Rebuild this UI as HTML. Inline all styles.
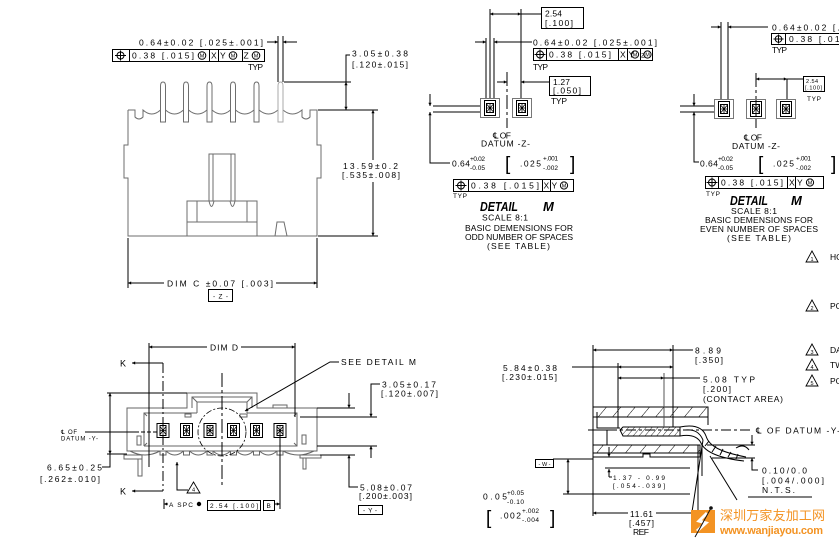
<!DOCTYPE html>
<html><head><meta charset="utf-8">
<style>
html,body{margin:0;padding:0;background:#fff;overflow:hidden;width:839px;height:545px}
svg{display:block;overflow:hidden}
text{font-family:"Liberation Sans","DejaVu Sans",sans-serif;font-size:8.5px;fill:#000}
.sm{font-size:6.5px}
.xs{font-size:5.5px}
.br{font-size:19px;font-weight:normal}
.dt{font-size:13px;font-weight:bold;font-style:italic}
.f6{font-size:6px}
.f9{font-size:9px}
</style></head><body>
<svg width="839" height="545" viewBox="0 0 839 545" xmlns="http://www.w3.org/2000/svg">
<defs>
<marker id="a" viewBox="0 0 10 10" refX="10" refY="5" markerWidth="7" markerHeight="3.2" markerUnits="userSpaceOnUse" orient="auto-start-reverse"><path d="M0,0L10,5L0,10z" fill="#000"/></marker>
<pattern id="h1" width="11" height="11" patternUnits="userSpaceOnUse" patternTransform="rotate(40)"><line x1="0" y1="0" x2="0" y2="11" stroke="#000" stroke-width="1"/></pattern>
<pattern id="h2" width="4.5" height="4.5" patternUnits="userSpaceOnUse" patternTransform="rotate(40)"><line x1="0" y1="0" x2="0" y2="4.5" stroke="#000" stroke-width="0.8"/></pattern>
<g id="c">
<rect x="0.5" y="0.5" width="19" height="19" stroke="#777" fill="none"/>
<rect x="4.5" y="2.5" width="11" height="15" stroke="#000" fill="none"/>
<rect x="6.5" y="5.5" width="7" height="9" stroke="#000" fill="none"/>
<path d="M10,5.5V14.5M6.5,10H13.5M7,6.5L13,13.5M13,6.5L7,13.5" stroke="#000" stroke-width="0.8" fill="none"/>
</g>
<g id="d">
<rect x="0.5" y="0.5" width="12" height="14" stroke="#000" fill="none"/>
<rect x="3.5" y="2.5" width="6" height="10" stroke="#000" fill="none"/>
<path d="M6.5,3V12M3.5,7.5H9.5M4,4L9,11M9,4L4,11" stroke="#000" stroke-width="0.7" fill="none"/>
</g>
</defs>
<rect width="839" height="545" fill="#fff"/>

<!-- ================= FRONT VIEW (top-left) ================= -->
<g stroke="#6e6e6e" fill="none" stroke-width="1">
<path d="M128,110 H135 V117 Q139,121 143,117 V110 Q151.75,118 160.5,110 M165.5,110 Q174.5,118 183.5,110 M188.5,110 Q197.75,118 207,110 M212,110 Q221.25,118 230.5,110 M235.5,110 Q244.75,118 254,110 M259,110 Q268.5,118 278,110 M283,110 Q292.5,118 302,110 V117 Q306,121 310,117 V110 H317 V145 H321 V178 H317 V236 H128 V178 H124 V145 H128 V110"/>
<path d="M160.5,122V86Q160.5,82 163,82Q165.5,82 165.5,86V122Z"/>
<path d="M183.5,122V86Q183.5,82 186,82Q188.5,82 188.5,86V122Z"/>
<path d="M207,122V86Q207,82 209.5,82Q212,82 212,86V122Z"/>
<path d="M230.5,122V86Q230.5,82 233,82Q235.5,82 235.5,86V122Z"/>
<path d="M254,122V86Q254,82 256.5,82Q259,82 259,86V122Z"/>
<path d="M278,122V86Q278,82 280.5,82Q283,82 283,86V122Z" stroke="#aaa"/>
<path d="M209,201V154H235V201M213,154V201M231,154V201M209,201Q211.5,212 214,201M230,201Q232.5,212 235,201"/>
<rect x="187" y="201" width="70" height="35"/>
<path d="M197,201V222M247,201V222M187,222H257"/>
<path d="M275,236L277,222H284L287,236"/>
</g>
<g stroke="#000" fill="none" stroke-width="1">
<line x1="267" y1="42" x2="278" y2="42" marker-end="url(#a)"/>
<line x1="297" y1="42" x2="283" y2="42" marker-end="url(#a)"/>
<line x1="278" y1="36" x2="278" y2="82"/>
<line x1="283" y1="36" x2="283" y2="82"/>
<rect x="112.5" y="49.5" width="152" height="12"/>
<path d="M129.5,49.5V61.5M209.5,49.5V61.5M218.5,49.5V61.5M242.5,49.5V61.5"/>
<circle cx="120.5" cy="55.5" r="3.5"/><path d="M115,55.5H126M120.5,50.5V60.5"/>
<circle cx="202" cy="55.5" r="3.8"/><circle cx="233" cy="55.5" r="3.8"/><circle cx="256" cy="55.5" r="3.8"/>
<path d="M350,55H346V110"/>
<line x1="346" y1="92" x2="346" y2="82" marker-end="url(#a)"/>
<line x1="346" y1="100" x2="346" y2="110" marker-end="url(#a)"/>
<line x1="284" y1="82" x2="351" y2="82"/>
<line x1="318" y1="110" x2="378" y2="110"/>
<line x1="318" y1="236" x2="378" y2="236"/>
<line x1="373" y1="130" x2="373" y2="110" marker-end="url(#a)"/>
<line x1="373" y1="130" x2="373" y2="160"/>
<line x1="373" y1="182" x2="373" y2="236" marker-end="url(#a)"/>
<line x1="128" y1="238" x2="128" y2="288"/>
<line x1="317" y1="238" x2="317" y2="288"/>
<line x1="164" y1="283" x2="128" y2="283" marker-end="url(#a)"/>
<line x1="276" y1="283" x2="317" y2="283" marker-end="url(#a)"/>
<rect x="208.5" y="289.5" width="24" height="12"/>
</g>
<text x="139" y="45.5" textLength="124" lengthAdjust="spacing">0.64±0.02 [.025±.001]</text>
<text x="132" y="58.5" textLength="62" lengthAdjust="spacing">0.38 [.015]</text>
<text x="202" y="57.5" class="xs" text-anchor="middle">M</text>
<text x="211" y="58.5">X</text>
<text x="220" y="58.5">Y</text>
<text x="233" y="57.5" class="xs" text-anchor="middle">M</text>
<text x="243.5" y="58.5">Z</text>
<text x="256" y="57.5" class="xs" text-anchor="middle">M</text>
<text x="248" y="70" textLength="15" lengthAdjust="spacing">TYP</text>
<text x="352" y="56.5" textLength="56" lengthAdjust="spacing">3.05±0.38</text>
<text x="352" y="67.5" textLength="56" lengthAdjust="spacing">[.120±.015]</text>
<text x="343" y="169" textLength="55" lengthAdjust="spacing">13.59±0.2</text>
<text x="342" y="178" textLength="58" lengthAdjust="spacing">[.535±.008]</text>
<text x="167" y="286.5" textLength="106" lengthAdjust="spacing">DIM C ±0.07 [.003]</text>
<text x="213" y="298.5" class="sm" textLength="15" lengthAdjust="spacing">-Z-</text>

<!-- ================= DETAIL M ODD ================= -->
<g stroke="#000" fill="none" stroke-width="1">
<rect x="541.5" y="7.5" width="42" height="21"/>
<line x1="490" y1="9" x2="490" y2="98"/>
<line x1="521" y1="9" x2="521" y2="98"/>
<line x1="486" y1="38" x2="486" y2="98"/>
<line x1="494" y1="38" x2="494" y2="98"/>
<line x1="490" y1="14" x2="521" y2="14" marker-start="url(#a)" marker-end="url(#a)"/>
<line x1="521" y1="14" x2="541" y2="14"/>
<line x1="475" y1="42" x2="486" y2="42" marker-end="url(#a)"/>
<line x1="532" y1="42" x2="494" y2="42" marker-end="url(#a)"/>
<rect x="533.5" y="48.5" width="119" height="12"/>
<path d="M546.5,48.5V60.5M618.5,48.5V60.5M627.5,48.5V60.5M640.5,48.5V60.5"/>
<circle cx="540" cy="54.5" r="3.5"/><path d="M534.5,54.5H545.5M540,49.5V59.5"/>
<circle cx="635" cy="54.5" r="3.6"/><circle cx="647.5" cy="54.5" r="3.6"/>
<rect x="549.5" y="76.5" width="41" height="19"/>
<line x1="549" y1="82" x2="521" y2="82" marker-end="url(#a)"/>
<line x1="497" y1="82" x2="507" y2="82" marker-end="url(#a)"/>
<line x1="507" y1="72" x2="507" y2="128" stroke-dasharray="14,3,3,3"/>
<line x1="433" y1="106" x2="480" y2="106"/>
<line x1="433" y1="112" x2="480" y2="112"/>
<line x1="430" y1="94" x2="430" y2="106" marker-end="url(#a)"/>
<line x1="430" y1="124" x2="430" y2="112" marker-end="url(#a)"/>
<polyline points="430,124 430,163 450,163"/>
<rect x="453.5" y="179.5" width="120" height="12"/>
<path d="M468.5,179.5V191.5M542.5,179.5V191.5M550.5,179.5V191.5"/>
<circle cx="461" cy="185.5" r="3.5"/><path d="M455.5,185.5H466.5M461,180.5V190.5"/>
<circle cx="564" cy="185.5" r="3.6"/>
</g>
<use href="#c" x="480" y="98"/>
<use href="#c" x="512" y="98"/>
<text x="545" y="16.5" textLength="17" lengthAdjust="spacing">2.54</text>
<text x="545" y="26" textLength="28" lengthAdjust="spacing">[.100]</text>
<text x="533" y="45.5" textLength="124" lengthAdjust="spacing">0.64±0.02 [.025±.001]</text>
<text x="549" y="57.5" textLength="62" lengthAdjust="spacing">0.38 [.015]</text>
<text x="620" y="57.5">X</text>
<text x="628.5" y="57.5">Y</text>
<text x="635" y="56.5" class="xs" text-anchor="middle">M</text>
<text x="641" y="57.5" class="sm">Z</text>
<text x="647.5" y="56.5" class="xs" text-anchor="middle">M</text>
<text x="533" y="70" textLength="15" lengthAdjust="spacing">TYP</text>
<text x="553" y="85" textLength="17" lengthAdjust="spacing">1.27</text>
<text x="553" y="93.5" textLength="28" lengthAdjust="spacing">[.050]</text>
<text x="551" y="104" textLength="16" lengthAdjust="spacing">TYP</text>
<text x="493" y="138.5" textLength="18" lengthAdjust="spacing">℄ OF</text>
<text x="481" y="146.5" textLength="49" lengthAdjust="spacing">DATUM -Z-</text>
<text x="452" y="166.5" textLength="18" lengthAdjust="spacing">0.64</text>
<text x="470" y="161" class="sm" textLength="15" lengthAdjust="spacing">+0.02</text>
<text x="470" y="170" class="sm" textLength="15" lengthAdjust="spacing">-0.05</text>
<text x="505" y="170" class="br">[</text>
<text x="520" y="166.5" textLength="21" lengthAdjust="spacing">.025</text>
<text x="543" y="160.5" class="sm" textLength="15" lengthAdjust="spacing">+.001</text>
<text x="543" y="170" class="sm" textLength="15" lengthAdjust="spacing">-.002</text>
<text x="570" y="170" class="br">]</text>
<text x="471" y="188.5" textLength="68" lengthAdjust="spacing">0.38 [.015]</text>
<text x="543.5" y="188.5">X</text>
<text x="551.5" y="188.5">Y</text>
<text x="564" y="187.5" class="xs" text-anchor="middle">M</text>
<text x="453" y="198" class="sm" textLength="14" lengthAdjust="spacing">TYP</text>
<text x="480" y="211" class="dt" textLength="38" lengthAdjust="spacingAndGlyphs">DETAIL</text>
<text x="543" y="211" class="dt">M</text>
<text x="482" y="220.5" textLength="46" lengthAdjust="spacing">SCALE 8:1</text>
<text x="465" y="231" textLength="108" lengthAdjust="spacing">BASIC DEMENSIONS FOR</text>
<text x="465" y="240" textLength="108" lengthAdjust="spacing">ODD NUMBER OF SPACES</text>
<text x="487" y="249" textLength="63" lengthAdjust="spacing">(SEE TABLE)</text>

<!-- ================= DETAIL M EVEN ================= -->
<g stroke="#000" fill="none" stroke-width="1">
<line x1="721" y1="22" x2="721" y2="99"/>
<line x1="728" y1="22" x2="728" y2="99"/>
<line x1="711" y1="27" x2="721" y2="27" marker-end="url(#a)"/>
<line x1="768" y1="27" x2="728" y2="27" marker-end="url(#a)"/>
<rect x="771.5" y="33.5" width="90" height="11"/>
<path d="M785.5,33.5V44.5"/>
<circle cx="778.5" cy="39" r="3.3"/><path d="M773.5,39H783.5M778.5,34.5V43.5"/>
<line x1="756" y1="73" x2="756" y2="128" stroke-dasharray="14,3,3,3"/>
<line x1="756" y1="79" x2="787" y2="79" marker-start="url(#a)" marker-end="url(#a)"/>
<line x1="787" y1="79" x2="803" y2="79"/>
<line x1="787" y1="79" x2="787" y2="99"/>
<rect x="803.5" y="76.5" width="21" height="15"/>
<line x1="680" y1="106" x2="714" y2="106"/>
<line x1="680" y1="112" x2="714" y2="112"/>
<line x1="694" y1="94" x2="694" y2="106" marker-end="url(#a)"/>
<line x1="694" y1="124" x2="694" y2="112" marker-end="url(#a)"/>
<polyline points="694,124 694,162 699,162"/>
<rect x="705.5" y="176.5" width="118" height="12"/>
<path d="M718.5,176.5V188.5M787.5,176.5V188.5M795.5,176.5V188.5"/>
<circle cx="712" cy="182.5" r="3.5"/><path d="M706.5,182.5H717.5M712,177.5V187.5"/>
<circle cx="810" cy="182.5" r="3.6"/>
</g>
<use href="#c" x="714" y="99"/>
<use href="#c" x="746" y="99"/>
<use href="#c" x="776" y="99"/>
<text x="772" y="30.5" textLength="124" lengthAdjust="spacing">0.64±0.02 [.025±.001]</text>
<text x="789" y="42" textLength="62" lengthAdjust="spacing">0.38 [.015]</text>
<text x="772" y="53" textLength="15" lengthAdjust="spacing">TYP</text>
<text x="806" y="83" class="xs" textLength="12" lengthAdjust="spacing">2.54</text>
<text x="805" y="89.5" class="xs" textLength="17" lengthAdjust="spacing">[.100]</text>
<text x="807" y="101" class="sm" textLength="14" lengthAdjust="spacing">TYP</text>
<text x="744" y="140.5" textLength="18" lengthAdjust="spacing">℄ OF</text>
<text x="732" y="149" textLength="48" lengthAdjust="spacing">DATUM -Z-</text>
<text x="700" y="166.5" textLength="18" lengthAdjust="spacing">0.64</text>
<text x="718" y="161" class="sm" textLength="15" lengthAdjust="spacing">+0.02</text>
<text x="718" y="170" class="sm" textLength="15" lengthAdjust="spacing">-0.05</text>
<text x="758" y="170" class="br">[</text>
<text x="773" y="166.5" textLength="21" lengthAdjust="spacing">.025</text>
<text x="796" y="160.5" class="sm" textLength="15" lengthAdjust="spacing">+.001</text>
<text x="796" y="170" class="sm" textLength="15" lengthAdjust="spacing">-.002</text>
<text x="831" y="170" class="br">]</text>
<text x="721" y="185.5" textLength="62" lengthAdjust="spacing">0.38 [.015]</text>
<text x="789" y="185.5">X</text>
<text x="797" y="185.5">Y</text>
<text x="810" y="184.5" class="xs" text-anchor="middle">M</text>
<text x="706" y="196" class="sm" textLength="14" lengthAdjust="spacing">TYP</text>
<text x="730" y="205" class="dt" textLength="38" lengthAdjust="spacingAndGlyphs">DETAIL</text>
<text x="791" y="205" class="dt">M</text>
<text x="731" y="214" textLength="46" lengthAdjust="spacing">SCALE 8:1</text>
<text x="705" y="223" textLength="108" lengthAdjust="spacing">BASIC DEMENSIONS FOR</text>
<text x="700" y="232" textLength="118" lengthAdjust="spacing">EVEN NUMBER OF SPACES</text>
<text x="727" y="241" textLength="64" lengthAdjust="spacing">(SEE TABLE)</text>

<!-- notes -->
<g stroke="#000" fill="none" stroke-width="0.9">
<path d="M812,251L818,262H806Z"/>
<path d="M812,300L818,311H806Z"/>
<path d="M812,344L818,355H806Z"/>
<path d="M812,359L818,370H806Z"/>
<path d="M812,375L818,386H806Z"/>
</g>
<text x="812" y="261" class="xs" text-anchor="middle">1</text>
<text x="812" y="310" class="xs" text-anchor="middle">2</text>
<text x="812" y="354" class="xs" text-anchor="middle">3</text>
<text x="812" y="369" class="xs" text-anchor="middle">4</text>
<text x="812" y="385" class="xs" text-anchor="middle">5</text>
<text x="830" y="260">HO</text>
<text x="830" y="309">PO</text>
<text x="830" y="353">DA</text>
<text x="830" y="368">TW</text>
<text x="830" y="384">PO</text>

<!-- ================= TOP VIEW (bottom-left) ================= -->
<g stroke="#666" fill="none" stroke-width="1">
<path d="M127,408H187V393H257V408H317V451H127Z"/>
<path d="M192,408V397H252V408M192,397L197,402H247L252,397M197,402V413M247,402V413"/>
<path d="M144,446V413H197M247,413H297V446H144M144,413L147,416M297,413L294,416M144,446L147,443M297,446L294,443"/>
<rect x="273" y="405" width="14" height="3"/>
<rect x="185" y="414" width="6" height="3"/>
<rect x="240" y="414" width="7" height="3"/>
<rect x="137" y="436" width="4" height="9"/>
<rect x="302" y="435" width="4" height="9"/>
<rect x="160" y="451" width="6" height="4"/><rect x="183.5" y="451" width="6" height="4"/><rect x="207" y="451" width="6" height="4"/><rect x="230.5" y="451" width="6" height="4"/><rect x="253.5" y="451" width="6" height="4"/><rect x="277" y="451" width="6" height="4"/>
<path d="M130,451Q145,459 160,451M166,451Q174.75,459 183.5,451M189.5,451Q198.25,459 207,451M213,451Q221.75,459 230.5,451M236.5,451Q245,459 253.5,451M259.5,451Q268.25,459 277,451M283,451Q298,459 314,451"/>
<rect x="124" y="455" width="18" height="4"/>
<rect x="138" y="459" width="4" height="17"/>
<rect x="300" y="455" width="21" height="3"/>
<rect x="303" y="458" width="3" height="11"/>
</g>
<use href="#d" x="156.5" y="423"/>
<use href="#d" x="180" y="423"/>
<use href="#d" x="203.5" y="423"/>
<use href="#d" x="227" y="423"/>
<use href="#d" x="250" y="423"/>
<use href="#d" x="273.5" y="423"/>
<g stroke="#000" fill="none" stroke-width="1">
<circle cx="222" cy="432" r="24" stroke-dasharray="6,2,2,2" stroke-width="0.8"/>
<line x1="222" y1="373" x2="222" y2="485" stroke-dasharray="14,3,3,3"/>
<line x1="163" y1="363" x2="163" y2="491" stroke-dasharray="10,3,2,3"/>
<line x1="149" y1="343" x2="149" y2="467"/>
<line x1="295" y1="343" x2="295" y2="417"/>
<line x1="207" y1="347" x2="149" y2="347" marker-end="url(#a)"/>
<line x1="241" y1="347" x2="295" y2="347" marker-end="url(#a)"/>
<line x1="163" y1="363" x2="132" y2="363" marker-end="url(#a)"/>
<line x1="163" y1="491" x2="132" y2="491" marker-end="url(#a)"/>
<line x1="85" y1="432" x2="135" y2="432"/>
<line x1="135" y1="432" x2="157" y2="432" stroke-dasharray="4,2"/>
<line x1="107" y1="393" x2="187" y2="393"/>
<line x1="107" y1="454" x2="127" y2="454"/>
<line x1="110" y1="410" x2="110" y2="393" marker-end="url(#a)"/>
<line x1="110" y1="440" x2="110" y2="454" marker-end="url(#a)"/>
<polyline points="110,393 110,467 102,467"/>
<path d="M193.5,482L200,493H187Z" stroke-width="0.9"/>
<line x1="177" y1="476" x2="177" y2="462" marker-end="url(#a)"/>
<polyline points="177,476 177,490 188,490"/>
<line x1="168" y1="504" x2="164" y2="504" marker-end="url(#a)"/>
<line x1="164" y1="499" x2="164" y2="509"/>
<rect x="207.5" y="500.5" width="53" height="10"/>
<rect x="263.5" y="500.5" width="11" height="10"/>
<line x1="274" y1="504" x2="280" y2="504" marker-end="url(#a)"/>
<line x1="280" y1="430" x2="280" y2="509"/>
<polyline points="339,362 330,362 245,411" marker-end="url(#a)"/>
<polyline points="380,384 371,384 371,417" marker-end="url(#a)"/>
<line x1="349" y1="393" x2="349" y2="408" marker-end="url(#a)"/>
<line x1="317" y1="408" x2="355" y2="408"/>
<line x1="300" y1="417" x2="377" y2="417"/>
<line x1="317" y1="446" x2="377" y2="446"/>
<line x1="320" y1="455" x2="355" y2="455"/>
<line x1="371" y1="458" x2="371" y2="446" marker-end="url(#a)"/>
<line x1="349" y1="480" x2="349" y2="455" marker-end="url(#a)"/>
<polyline points="349,480 349,487 358,487"/>
<rect x="358.5" y="505.5" width="24" height="9"/>
</g>
<circle cx="199" cy="504" r="2.2" fill="#000"/>
<text x="210" y="350.5" textLength="28" lengthAdjust="spacing">DIM D</text>
<text x="120" y="366.5" class="f9">K</text>
<text x="120" y="494.5" class="f9">K</text>
<text x="61" y="434" class="f6" textLength="16" lengthAdjust="spacing">℄ OF</text>
<text x="61" y="440.5" class="f6" textLength="37" lengthAdjust="spacing">DATUM -Y-</text>
<text x="47" y="470.5" textLength="55" lengthAdjust="spacing">6.65±0.25</text>
<text x="40" y="482" textLength="60" lengthAdjust="spacing">[.262±.010]</text>
<text x="193.5" y="491.5" class="xs" text-anchor="middle">4</text>
<text x="169" y="507" class="sm" textLength="24" lengthAdjust="spacing">A SPC</text>
<text x="210" y="508" class="sm" textLength="48" lengthAdjust="spacing">2.54 [.100]</text>
<text x="266.5" y="508" class="sm">B</text>
<text x="341" y="365" textLength="75" lengthAdjust="spacing">SEE DETAIL  M</text>
<text x="382" y="387.5" textLength="54" lengthAdjust="spacing">3.05±0.17</text>
<text x="381" y="396.5" textLength="57" lengthAdjust="spacing">[.120±.007]</text>
<text x="360" y="490.5" textLength="52" lengthAdjust="spacing">5.08±0.07</text>
<text x="359" y="499" textLength="53" lengthAdjust="spacing">[.200±.003]</text>
<text x="363" y="512.5" class="sm" textLength="14" lengthAdjust="spacing">-Y-</text>

<!-- ================= SECTION VIEW (bottom-middle) ================= -->
<g stroke="#000" fill="none" stroke-width="1">
<rect x="593" y="407" width="115" height="10" fill="url(#h1)"/>
<rect x="593" y="445" width="107" height="8" fill="url(#h1)"/>
<path d="M620,430L623,427H680V436H623Z" fill="url(#h2)"/>
<path d="M593,417V430H607V445M597,412V428H620"/>
<path d="M593,453V457H643V454H650V457H700V445"/>
<path d="M708,407V425"/>
<path d="M680,427C695,424 703,428 706,436C709,446 720,452 746,457"/>
<path d="M680,436C692,434 698,437 701,443C705,452 718,458 744,461"/>
<path d="M685,430C695,429 700,433 703,440"/>
<path d="M705,446L709,441M712,452L716,446M720,455L723,449M728,457L731,452M736,459L738,454"/>
<path d="M736,448Q744,443 749,450"/>
<line x1="698" y1="445" x2="698" y2="516"/>
<line x1="702" y1="445" x2="702" y2="476"/>
<line x1="703" y1="440" x2="692" y2="512"/>
<line x1="710" y1="456" x2="737" y2="500"/>
<line x1="593" y1="345" x2="593" y2="516"/>
<line x1="618" y1="363" x2="618" y2="428"/>
<line x1="673" y1="345" x2="673" y2="427"/>
<line x1="664" y1="373" x2="664" y2="427" stroke="#555"/>
<line x1="593" y1="350" x2="673" y2="350" marker-start="url(#a)" marker-end="url(#a)"/>
<line x1="673" y1="350" x2="693" y2="350"/>
<line x1="618" y1="367" x2="673" y2="367" marker-start="url(#a)" marker-end="url(#a)"/>
<line x1="572" y1="367" x2="618" y2="367"/>
<line x1="618" y1="378" x2="664" y2="378" marker-start="url(#a)" marker-end="url(#a)"/>
<line x1="664" y1="378" x2="700" y2="378"/>
<line x1="588" y1="430" x2="752" y2="430" stroke-dasharray="10,3,3,3"/>
<line x1="707" y1="445" x2="755" y2="445"/>
<line x1="712" y1="458" x2="755" y2="458"/>
<line x1="752" y1="435" x2="752" y2="445" marker-end="url(#a)"/>
<line x1="752" y1="468" x2="752" y2="458" marker-end="url(#a)"/>
<polyline points="752,468 752,470 758,470"/>
<line x1="748" y1="497" x2="812" y2="497"/>
<rect x="535.5" y="459.5" width="18" height="8"/>
<line x1="553" y1="459" x2="593" y2="459"/>
<line x1="568" y1="470" x2="568" y2="459" marker-end="url(#a)"/>
<line x1="568" y1="484" x2="568" y2="494" marker-end="url(#a)"/>
<line x1="568" y1="459" x2="568" y2="494"/>
<line x1="563" y1="494" x2="690" y2="494"/>
<line x1="605" y1="468" x2="690" y2="468"/>
<line x1="609" y1="477" x2="609" y2="469" marker-end="url(#a)"/>
<polyline points="609,477 612,477"/>
<line x1="609" y1="447" x2="609" y2="457" marker-end="url(#a)"/>
<line x1="628" y1="513" x2="593" y2="513" marker-end="url(#a)"/>
<line x1="656" y1="513" x2="697" y2="513" marker-end="url(#a)"/>
</g>
<text x="503" y="371" textLength="54" lengthAdjust="spacing">5.84±0.38</text>
<text x="502" y="380" textLength="55" lengthAdjust="spacing">[.230±.015]</text>
<text x="695" y="353.5" textLength="26" lengthAdjust="spacing">8.89</text>
<text x="695" y="363" textLength="28" lengthAdjust="spacing">[.350]</text>
<text x="703" y="382.5" textLength="52" lengthAdjust="spacing">5.08  TYP</text>
<text x="703" y="392" textLength="28" lengthAdjust="spacing">[.200]</text>
<text x="703" y="402" textLength="80" lengthAdjust="spacing">(CONTACT AREA)</text>
<text x="756" y="433.5" textLength="84" lengthAdjust="spacing">℄ OF DATUM -Y-</text>
<text x="762" y="473.5" textLength="45" lengthAdjust="spacing">0.10/0.0</text>
<text x="762" y="483.5" textLength="62" lengthAdjust="spacing">[.004/.000]</text>
<text x="762" y="493" textLength="33" lengthAdjust="spacing">N.T.S.</text>
<text x="538.5" y="466" class="xs" textLength="12" lengthAdjust="spacing">-W-</text>
<text x="483" y="499.5" textLength="24" lengthAdjust="spacing">0.05</text>
<text x="507" y="495" class="sm" textLength="17" lengthAdjust="spacing">+0.05</text>
<text x="507" y="504" class="sm" textLength="17" lengthAdjust="spacing">-0.10</text>
<text x="486" y="524" class="br">[</text>
<text x="500" y="518.5" textLength="21" lengthAdjust="spacing">.002</text>
<text x="522" y="513" class="sm" textLength="17" lengthAdjust="spacing">+.002</text>
<text x="522" y="522" class="sm" textLength="17" lengthAdjust="spacing">-.004</text>
<text x="550" y="524" class="br">]</text>
<text x="613" y="480" class="sm" textLength="52" lengthAdjust="spacing">1.37 - 0.99</text>
<text x="613" y="488" class="sm" textLength="52" lengthAdjust="spacing">[.054-.039]</text>
<text x="630" y="517" textLength="23" lengthAdjust="spacing">11.61</text>
<text x="629" y="526" textLength="25" lengthAdjust="spacing">[.457]</text>
<text x="633" y="535" textLength="16" lengthAdjust="spacing">REF</text>

<!-- watermark -->
<rect x="691" y="510" width="24" height="23" fill="#f39323"/>
<path d="M707,513L699,521L706,523L697,531" stroke="#fff" stroke-width="3" fill="none"/>
<line x1="711" y1="508" x2="695" y2="537" stroke="#111" stroke-width="1"/>
<circle cx="711" cy="508" r="1.8" fill="#111"/>
<text x="720" y="520" style="font-family:'Liberation Sans','Noto Sans CJK SC',sans-serif;font-size:13px;fill:#f39323" textLength="105" lengthAdjust="spacing">深圳万家友加工网</text>
<text x="720" y="534" style="fill:#f39323;font-size:11px;font-weight:bold" textLength="103" lengthAdjust="spacing">www.wanjiayou.com</text>
</svg>
</body></html>
